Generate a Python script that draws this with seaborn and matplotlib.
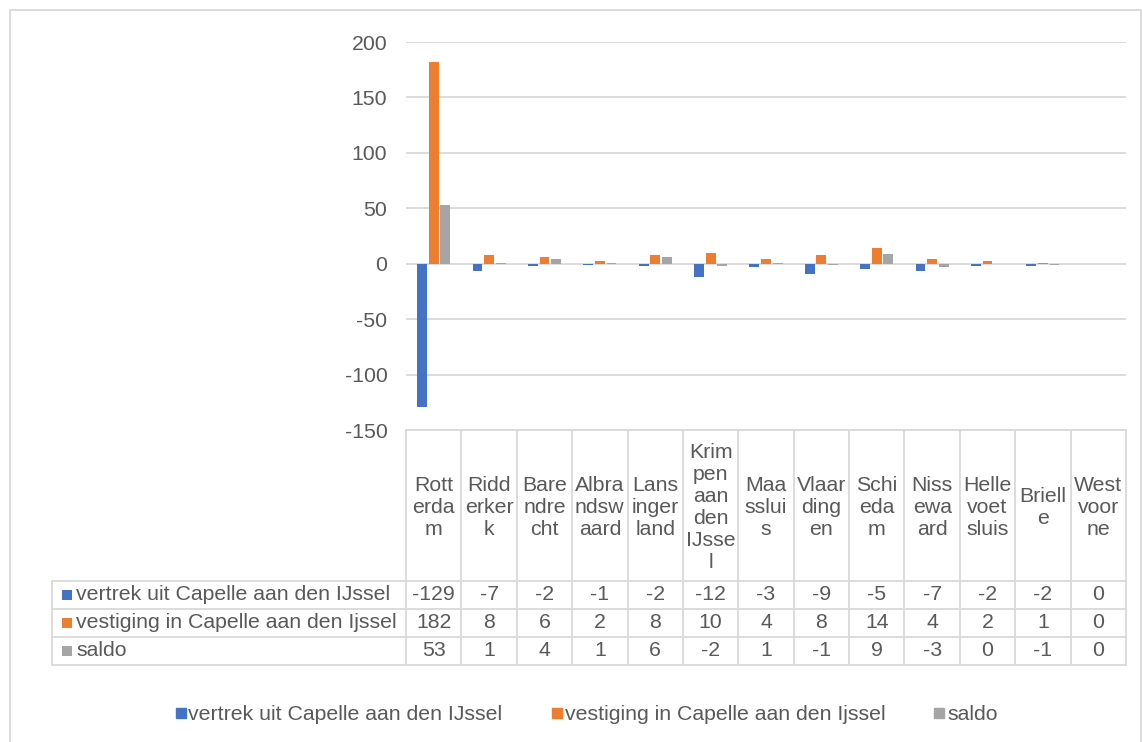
import numpy as np
import pandas as pd
import matplotlib
matplotlib.use("Agg")
import matplotlib.pyplot as plt
import seaborn as sns
from matplotlib.lines import Line2D
from matplotlib.patches import Rectangle

# --- data -------------------------------------------------------------
gemeenten = ["Rotterdam", "Ridderkerk", "Barendrecht", "Albrandswaard",
             "Lansingerland", "Krimpen aan den IJssel", "Maassluis",
             "Vlaardingen", "Schiedam", "Nissewaard", "Hellevoetsluis",
             "Brielle", "Westvoorne"]
kop_labels = ["Rott\nerda\nm", "Ridd\nerker\nk", "Bare\nndre\ncht",
              "Albra\nndsw\naard", "Lans\ninger\nland",
              "Krim\npen\naan\nden\nIJsse\nl", "Maa\nsslui\ns",
              "Vlaar\nding\nen", "Schi\neda\nm", "Niss\newa\nard",
              "Helle\nvoet\nsluis", "Briell\ne", "West\nvoor\nne"]
reeksen = ["vertrek uit Capelle aan den IJssel",
           "vestiging in Capelle aan den Ijssel",
           "saldo"]
vertrek = [-129, -7, -2, -1, -2, -12, -3, -9, -5, -7, -2, -2, 0]
vestiging = [182, 8, 6, 2, 8, 10, 4, 8, 14, 4, 2, 1, 0]
saldo = [53, 1, 4, 1, 6, -2, 1, -1, 9, -3, 0, -1, 0]
y_ticks = [-150, -100, -50, 0, 50, 100, 150, 200]

kleuren = ["#4472C4", "#ED7D31", "#A5A5A5"]
tekst = "#595959"
lijn = "#D9D9D9"
fs = 15.3

waarden = {reeksen[0]: vertrek, reeksen[1]: vestiging, reeksen[2]: saldo}
df = pd.DataFrame([
    {"gemeente": g, "reeks": r, "waarde": waarden[r][i]}
    for r in reeksen for i, g in enumerate(gemeenten)
])

# --- figure -----------------------------------------------------------
W, H = 1142, 742
sns.set_theme(style="white")
plt.rcParams["font.family"] = ["Liberation Sans", "DejaVu Sans"]
fig = plt.figure(figsize=(W / 100, H / 100), dpi=100)


def fx(x):
    return x / W


def fy(y):
    return 1 - y / H


left, right, top, bottom = 406, 1126, 42, 430
ax = fig.add_axes([fx(left), fy(bottom), fx(right) - fx(left), fy(top) - fy(bottom)])

sns.barplot(data=df, x="gemeente", y="waarde", hue="reeks",
            order=gemeenten, hue_order=reeksen, palette=kleuren,
            width=0.63, gap=0.15, errorbar=None, legend=False,
            saturation=1, linewidth=0, ax=ax)

ax.set_xlim(-0.5, len(gemeenten) - 0.5)
ax.set_ylim(min(y_ticks), max(y_ticks))
ax.set_yticks(y_ticks)
ax.set_yticklabels([str(t) for t in y_ticks], fontsize=15.3, color=tekst)
ax.tick_params(axis="y", length=0, pad=13.5)
ax.set_xticks([])
ax.set_xlabel("")
ax.set_ylabel("")
for s in ax.spines.values():
    s.set_visible(False)
ax.set_axisbelow(True)
for t in y_ticks:
    ax.axhline(t, color=lijn, lw=1.3, zorder=0)

# --- data table under the plot ---------------------------------------
n = len(gemeenten)
col_w = (right - left) / n
kol_x = [left + k * col_w for k in range(n + 1)]
kop_bottom = 581
rij_y = [581, 609, 637, 665]
label_left = 52


def hline(x0, x1, y):
    fig.add_artist(Line2D([fx(x0), fx(x1)], [fy(y), fy(y)],
                          transform=fig.transFigure, color=lijn, lw=1.3))


def vline(x, y0, y1):
    fig.add_artist(Line2D([fx(x), fx(x)], [fy(y0), fy(y1)],
                          transform=fig.transFigure, color=lijn, lw=1.3))


hline(left, right, bottom)
for y in rij_y:
    hline(label_left, right, y)
for x in kol_x:
    vline(x, bottom, rij_y[-1])
vline(label_left, rij_y[0], rij_y[-1])

for i, lab in enumerate(kop_labels):
    cx = (kol_x[i] + kol_x[i + 1]) / 2
    fig.text(fx(cx), fy((bottom + kop_bottom) / 2 + 2), lab, ha="center",
             va="center", fontsize=fs, color=tekst, linespacing=1.2)

for r, naam in enumerate(reeksen):
    cy = (rij_y[r] + rij_y[r + 1]) / 2
    fig.add_artist(Rectangle((fx(62), fy(cy + 5)), fx(10), 10 / H,
                             transform=fig.transFigure, color=kleuren[r], lw=0))
    fig.text(fx(76.5), fy(cy), naam, ha="left", va="center",
             fontsize=fs, color=tekst)
    for i, v in enumerate(waarden[naam]):
        cx = (kol_x[i] + kol_x[i + 1]) / 2
        fig.text(fx(cx), fy(cy), str(v), ha="center", va="center",
                 fontsize=fs, color=tekst)

# --- legend -----------------------------------------------------------
handles = [Line2D([], [], marker="s", linestyle="none", markersize=7,
                  markerfacecolor=c, markeredgecolor=c) for c in kleuren]
fig.legend(handles, reeksen, loc="center", bbox_to_anchor=(0.5136, fy(715)),
           ncol=3, frameon=False, fontsize=fs, labelcolor=tekst,
           handlelength=0.5, handletextpad=0.12, columnspacing=2.3)

# --- chart border -----------------------------------------------------
fig.add_artist(Rectangle((fx(10), fy(760)), fx(1131), (760 - 10) / H,
                         transform=fig.transFigure, fill=False,
                         edgecolor=lijn, lw=1.3))

fig.savefig("out.png", dpi=100, facecolor="white")
